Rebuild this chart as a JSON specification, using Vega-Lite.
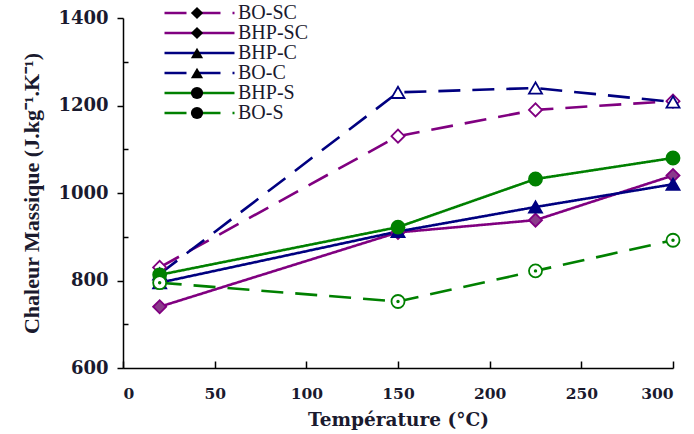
{
  "$schema": "https://vega.github.io/schema/vega-lite/v6.json",
  "width": 550,
  "height": 350,
  "autosize": "none",
  "padding": {"left": 123, "top": 18, "right": 21, "bottom": 66},
  "background": "white",
  "config": {
    "view": {"stroke": null},
    "font": "Liberation Serif",
    "axis": {
      "domainColor": "black", "domainWidth": 1.5, "tickColor": "black", "tickWidth": 1.5,
      "grid": false, "labelFont": "DejaVu Serif", "labelFontWeight": "bold", "labelFontSize": 15,
      "labelColor": "#1a1a2e", "titleFont": "Liberation Serif", "titleFontWeight": "bold", "titleFontSize": 20, "titleColor": "#1a1a2e"
    }
  },
  "data": {"values": [
    {"series": "BO-SC", "temp": 20, "cp": 830}, {"series": "BO-SC", "temp": 150, "cp": 1130}, {"series": "BO-SC", "temp": 225, "cp": 1190}, {"series": "BO-SC", "temp": 300, "cp": 1210},
    {"series": "BHP-SC", "temp": 20, "cp": 740}, {"series": "BHP-SC", "temp": 150, "cp": 910}, {"series": "BHP-SC", "temp": 225, "cp": 938}, {"series": "BHP-SC", "temp": 300, "cp": 1040},
    {"series": "BHP-C", "temp": 20, "cp": 795}, {"series": "BHP-C", "temp": 150, "cp": 912}, {"series": "BHP-C", "temp": 225, "cp": 968}, {"series": "BHP-C", "temp": 300, "cp": 1020},
    {"series": "BO-C", "temp": 20, "cp": 815}, {"series": "BO-C", "temp": 150, "cp": 1230}, {"series": "BO-C", "temp": 225, "cp": 1240}, {"series": "BO-C", "temp": 300, "cp": 1208},
    {"series": "BHP-S", "temp": 20, "cp": 813}, {"series": "BHP-S", "temp": 150, "cp": 922}, {"series": "BHP-S", "temp": 225, "cp": 1032}, {"series": "BHP-S", "temp": 300, "cp": 1080},
    {"series": "BO-S", "temp": 20, "cp": 795}, {"series": "BO-S", "temp": 150, "cp": 752}, {"series": "BO-S", "temp": 225, "cp": 822}, {"series": "BO-S", "temp": 300, "cp": 892}
  ]},
  "encoding": {
    "x": {"field": "temp", "type": "quantitative", "scale": {"domain": [0, 300], "nice": false},
      "axis": {"values": [0, 50, 100, 150, 200, 250, 300], "tickSize": -7, "labelPadding": 25, "labelFontSize": 15.5, "title": "Température (°C)", "titleFont": "DejaVu Serif", "titleFontSize": 18.5, "titlePadding": 9}},
    "y": {"field": "cp", "type": "quantitative", "scale": {"domain": [600, 1400], "nice": false},
      "axis": {"values": [600, 700, 800, 900, 1000, 1100, 1200, 1300, 1400], "format": "d",
        "labelExpr": "datum.value % 200 === 0 ? datum.label : ''", "labelFontSize": 18,
        "tickSize": {"condition": {"test": "datum.value % 200 === 0", "value": 6}, "value": -5},
        "labelPadding": 9, "title": "Chaleur Massique (J.kg⁻¹.K⁻¹)", "titleFontSize": 22, "titlePadding": 14}}
  },
  "layer": [
    {
      "mark": {"type": "line", "strokeWidth": 2.6},
      "encoding": {
        "color": {"field": "series", "type": "nominal",
          "scale": {"domain": ["BO-SC", "BHP-SC", "BHP-C", "BO-C", "BHP-S", "BO-S"], "range": ["#800080", "#800080", "#000080", "#000080", "#008000", "#008000"]},
          "legend": {"orient": "none", "legendX": 40, "legendY": -15, "title": null, "symbolType": "stroke", "symbolSize": 4900, "clipHeight": 20,
            "symbolStrokeWidth": 2.6, "zindex": 1,
            "labelFont": "Liberation Serif", "labelFontSize": 20, "labelColor": "#1a1a2e", "labelOffset": 2, "rowPadding": 0,
            "encode": {"symbols": {"update": {
              "strokeDash": {"condition": [
                {"test": "datum.value === 'BO-SC' || datum.value === 'BO-C' || datum.value === 'BO-S'", "value": [40, 12, 30]}
              ], "value": [1, 0]},
              "strokeWidth": {"value": 2.6}
            }}}
          }},
        "strokeDash": {"field": "series", "type": "nominal",
          "scale": {"domain": ["BO-SC", "BHP-SC", "BHP-C", "BO-C", "BHP-S", "BO-S"], "range": [[22, 12], [1, 0], [1, 0], [22, 12], [1, 0], [22, 12]]},
          "legend": null}
      }
    },
    {
      "mark": {"type": "point", "size": 170, "strokeWidth": 1.8, "opacity": 1},
      "encoding": {
        "shape": {"field": "series", "type": "nominal", "sort": ["BO-SC", "BHP-SC", "BHP-C", "BO-C", "BHP-S", "BO-S"],
          "scale": {"range": ["diamond", "diamond", "triangle-up", "triangle-up", "circle", "circle"]},
          "legend": {"orient": "none", "legendX": 64, "legendY": -15, "title": null, "symbolSize": 150, "clipHeight": 20, "zindex": 3,
            "symbolStrokeWidth": 1.8, "labelExpr": "''", "labelFontSize": 20, "labelOpacity": 0, "rowPadding": 0,
            "encode": {"symbols": {"update": {
              "fill": {"condition": [
                {"test": "datum.value === 'BHP-SC'", "value": "#8b3a8b"},
                {"test": "datum.value === 'BHP-C'", "value": "#000080"},
                {"test": "datum.value === 'BHP-S'", "value": "#008000"}
              ], "value": "white"},
              "stroke": {"condition": [
                {"test": "datum.value === 'BO-SC' || datum.value === 'BHP-SC'", "value": "#800080"},
                {"test": "datum.value === 'BO-C' || datum.value === 'BHP-C'", "value": "#000080"}
              ], "value": "#008000"},
              "fillOpacity": {"value": 1},
              "strokeWidth": {"value": 1.8}
            }}}}},
        "stroke": {"field": "series", "type": "nominal", "sort": ["BO-SC", "BHP-SC", "BHP-C", "BO-C", "BHP-S", "BO-S"],
          "scale": {"range": ["#800080", "#800080", "#000080", "#000080", "#008000", "#008000"]},
          "legend": null},
        "fill": {"field": "series", "type": "nominal", "sort": ["BO-SC", "BHP-SC", "BHP-C", "BO-C", "BHP-S", "BO-S"],
          "scale": {"range": ["white", "#8b3a8b", "#000080", "white", "#008000", "white"]},
          "legend": null}
      }
    },
    {
      "transform": [{"filter": "datum.series === 'BO-S'"}],
      "mark": {"type": "point", "shape": "circle", "filled": true, "size": 12, "color": "#008000", "opacity": 1},
      "encoding": {}
    }
  ]
}
